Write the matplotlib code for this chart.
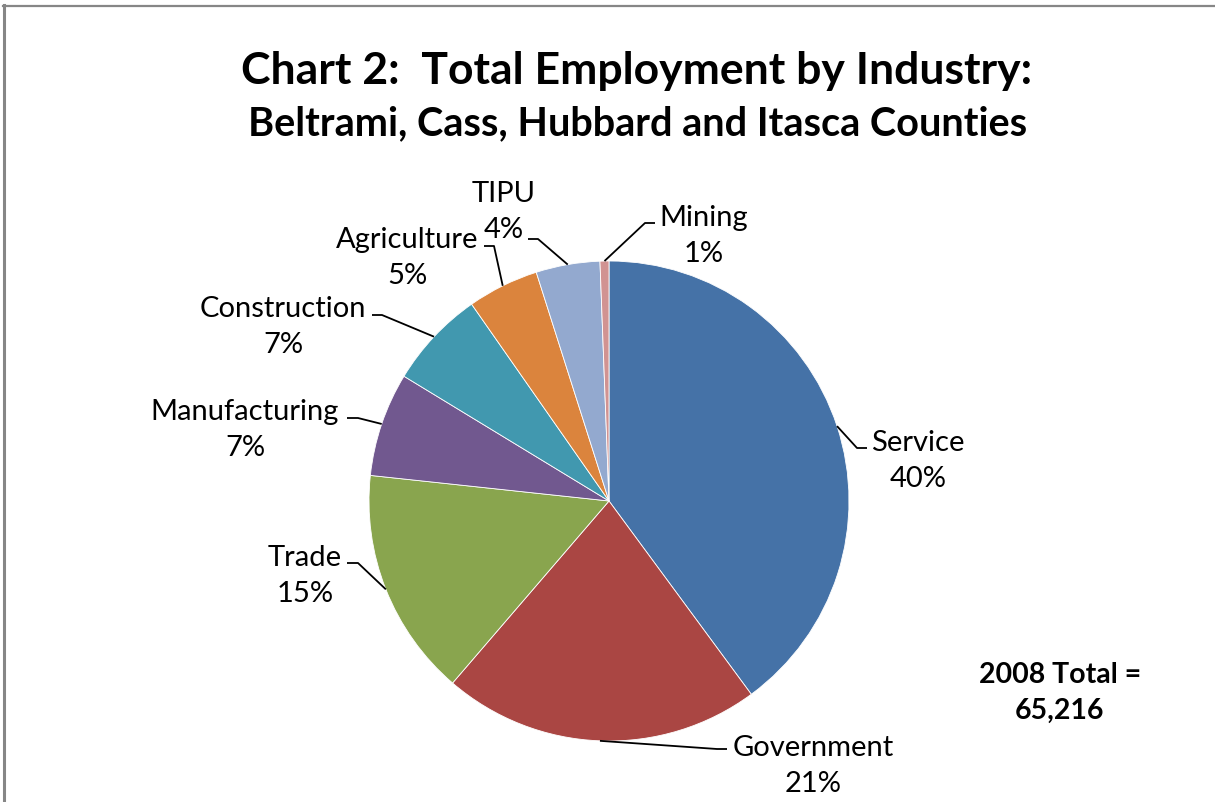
import matplotlib
matplotlib.use("Agg")
import matplotlib.pyplot as plt
import numpy as np

# Employment shares by industry (percent of 2008 total)
industries = ["Service", "Government", "Trade", "Manufacturing",
              "Construction", "Agriculture", "TIPU", "Mining"]
shares = [39.9, 21.4, 15.4, 7.0, 6.6, 4.8, 4.3, 0.6]
total_2008 = 65216

colors = ["#4572A7", "#AA4643", "#89A54E", "#71588F",
          "#4198AF", "#DB843D", "#93A9CF", "#D19392"]

W, H = 1215, 803
fig = plt.figure(figsize=(W / 100, H / 100), dpi=100)
ax = fig.add_axes([0, 0, 1, 1])

FONT = "Lato"

cx, cy, R = 609, 502, 240
wedges, _ = ax.pie(shares, colors=colors, startangle=-90, counterclock=True,
                   center=(cx, cy), radius=R, frame=True,
                   wedgeprops=dict(edgecolor="white", linewidth=0.6))
ax.set_xlim(0, W)
ax.set_ylim(H, 0)
ax.set_aspect("equal")
ax.axis("off")

# label block centres and leader-line elbows (pixel layout)
label_pos = [(918, 461), (813, 766), (305, 576), (245, 430),
             (283, 327), (407, 258), (504, 212), (704, 236)]
elbows = [((857, 449), (867, 449)), ((717, 750), (727, 750)),
          ((358, 564), (347, 564)), ((358, 419), (347, 419)),
          ((382, 316), (372, 316)), ((494, 247), (484, 247)),
          ((538, 240), (528, 240)), ((645, 224), (655, 224))]

for w, name, val, (lx, ly), (e1, e2) in zip(wedges, industries, shares,
                                             label_pos, elbows):
    mid = np.deg2rad((w.theta1 + w.theta2) / 2)
    sx, sy = cx + R * np.cos(mid), cy + R * np.sin(mid)
    ax.plot([sx, e1[0], e2[0]], [sy, e1[1], e2[1]], color="black", lw=1.3,
            solid_capstyle="butt")
    ax.text(lx, ly, f"{name}\n{val:.0f}%", ha="center", va="center",
            ma="center", fontsize=21, family=FONT, linespacing=1.5)

# titles
ax.text(637, 84, "Chart 2:  Total Employment by Industry:", ha="center",
        va="baseline", fontsize=32, fontweight="bold", family=FONT)
ax.text(638, 135, "Beltrami, Cass, Hubbard and Itasca Counties", ha="center",
        va="baseline", fontsize=28.5, fontweight="bold", family=FONT)

ax.text(1060, 693, f"2008 Total =\n{total_2008:,}", ha="center", va="center",
        ma="center", fontsize=20.5, fontweight="bold", family=FONT,
        linespacing=1.5)

# chart frame (top and left edges visible)
ax.plot([3, W], [6.5, 6.5], color="#868686", lw=1.6, clip_on=False)
ax.plot([4, 4], [6, H], color="#868686", lw=2.2, clip_on=False)

fig.savefig("out.png", dpi=100)
